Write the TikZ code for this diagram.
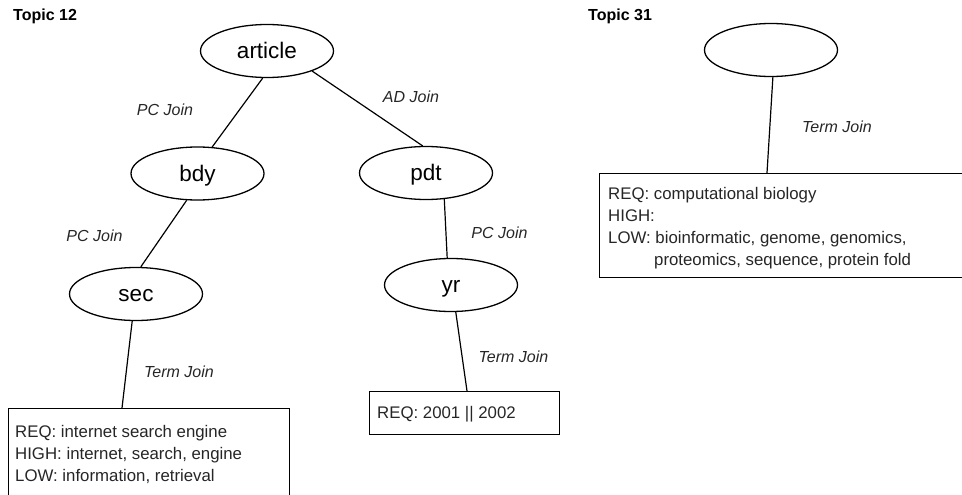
\documentclass[tikz,border=0pt]{standalone}
\usepackage{fontspec}
\setmainfont{Liberation Sans}
\usetikzlibrary{shapes.geometric,calc}
\tikzset{
  ell/.style={ellipse, draw, line width=1.3pt, minimum width=133pt, minimum height=53pt,
    inner sep=0pt, text height=15pt, text depth=0pt, font=\fontsize{22.5}{26}\selectfont},
  conn/.style={line width=1.2pt},
  lab/.style={inner sep=0pt, font=\fontsize{16}{19}\selectfont\itshape, text=black!85},
  topic/.style={inner sep=0pt, anchor=base west, font=\fontsize{16}{19}\selectfont\bfseries},
  boxr/.style={draw, line width=1.3pt, anchor=north west, inner sep=0pt},
  boxt/.style={inner sep=0pt, anchor=north west, align=left, text=black!85,
    font=\fontsize{16.8}{22}\selectfont},
}
\begin{document}
\begin{tikzpicture}[x=1pt,y=-1pt]
\useasboundingbox (0,0) rectangle (962,495);
\clip (0,0) rectangle (962,495);

% titles
\node[topic] (t12) at (13,21) {Topic 12};
\node[topic] (t31) at (588,21) {Topic 31};

% tree 1
\node[ell] (article) at (267,51) {article};
\node[ell] (bdy) at (197.5,173.5) {bdy};
\node[ell] (pdt) at (426,173) {pdt};
\node[ell] (sec) at (136,294) {sec};
\node[ell] (yr) at (451,285) {yr};

\node[boxr, minimum width=281pt, minimum height=130pt] (lbox) at (8,408) {};
\node[boxt] (ltext) at (15,425) {REQ: internet search engine\\HIGH: internet, search, engine\\LOW: information, retrieval};

\node[boxr, minimum width=190pt, minimum height=43pt] (rbox) at (369,391) {};
\node[inner sep=0pt, anchor=base west, text=black!85, font=\fontsize{16.8}{22}\selectfont] (rtext) at (377,418) {REQ: 2001 || 2002};

% tree 2
\node[ell] (root2) at (771,50) {};
\node[boxr, minimum width=400pt, minimum height=104pt] (tbox) at (599,173) {};
\node[boxt] (ttext) at (608,187) {REQ: computational biology\\HIGH:\\LOW: bioinformatic, genome, genomics,\\\hspace{46pt}proteomics, sequence, protein fold};

% connectors
\draw[conn] (article.-99) -- (bdy.61);
\draw[conn] (article.-24) -- (pdt.97);
\draw[conn] (bdy.-112) -- (sec.80);
\draw[conn] (pdt.-55) -- (yr.98);
\draw[conn] (sec.-98) -- ($(lbox.north west)+(114,0)$);
\draw[conn] (yr.-80) -- ($(rbox.north west)+(98,0)$);
\draw[conn] (root2.-86) -- ($(tbox.north west)+(168,0)$);

% labels
\node[lab] (l1) at (165,110) {PC Join};
\node[lab] (l2) at (411,97) {AD Join};
\node[lab] (l3) at (94.5,236) {PC Join};
\node[lab] (l4) at (499.5,233) {PC Join};
\node[lab] (l5) at (179,372) {Term Join};
\node[lab] (l6) at (513.5,357) {Term Join};
\node[lab] (l7) at (837,127) {Term Join};
\end{tikzpicture}
\end{document}
